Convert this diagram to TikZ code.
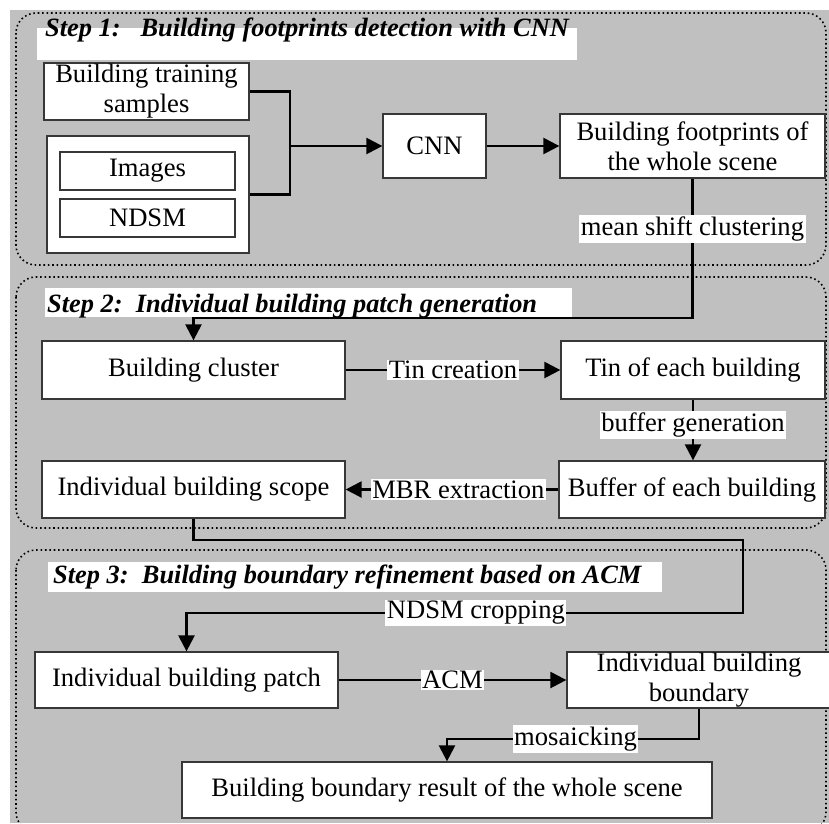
\documentclass[tikz,border=0pt]{standalone}
\usepackage{fontspec}
\setmainfont{Liberation Serif}
\usetikzlibrary{arrows.meta}
\definecolor{panelgray}{RGB}{192,192,192}
\definecolor{boxedge}{RGB}{55,55,55}

\begin{document}
\begin{tikzpicture}[x=1pt,y=-1pt,
  box/.style={draw=boxedge, line width=1.3pt, fill=white, inner sep=0pt,
    align=center, font=\fontsize{26.6}{30}\selectfont},
  lbl/.style={fill=white, inner sep=1.5pt, font=\fontsize{26.6}{30}\selectfont},
  link/.style={line width=2.4pt},
  flow/.style={link, -{Triangle[length=16pt,width=16pt]}},
  stage/.style={draw=black, line width=1.6pt, dash pattern=on 1.6pt off 2.8pt,
    rounded corners=20pt},
  steptitle/.style={anchor=base west, inner sep=0pt,
    font=\fontsize{26.4}{28}\selectfont\bfseries\itshape}
]
\useasboundingbox (0,0) rectangle (829,823);
\fill[panelgray] (10,10) rectangle (829,823);

% stage frames
\draw[stage] (16,13) rectangle (826,265);
\draw[stage] (16,277) rectangle (826,528);
\draw[stage] (16,550) rectangle (826,832);

% stage titles
\fill[white] (37,28) rectangle (577,60);
\node[steptitle] (t1) at (45,36) {Step 1:\ \ \ Building footprints detection with CNN};
\fill[white] (45,288) rectangle (572,317);
\node[steptitle] (t2) at (47,312) {Step 2:\ \ Individual building patch generation};
\fill[white] (48,562) rectangle (662,592);
\node[steptitle] (t3) at (53,583) {Step 3:\ \ Building boundary refinement based on ACM};

% step 1
\node[box, minimum width=205pt, minimum height=57pt] (train) at (146.5,91.5) {Building training\\samples};
\node[box, minimum width=202pt, minimum height=117pt] (inputs) at (148,194.5) {};
\node[box, minimum width=175pt, minimum height=38pt] (images) at (147.5,171) {Images};
\node[box, minimum width=175pt, minimum height=38pt] (ndsm) at (147.5,218) {NDSM};
\node[box, minimum width=103pt, minimum height=64pt] (cnn) at (434.5,146) {CNN};
\node[box, minimum width=265pt, minimum height=64pt] (foot) at (692.5,146) {Building footprints of\\the whole scene};

% step 2
\node[box, minimum width=303pt, minimum height=58pt] (cluster) at (193.5,370) {Building cluster};
\node[box, minimum width=264pt, minimum height=58pt] (tin) at (693,370) {Tin of each building};
\node[box, minimum width=266pt, minimum height=57pt] (buffer) at (692,489.5) {Buffer of each building};
\node[box, minimum width=303pt, minimum height=57pt] (scope) at (193.5,489.5) {Individual building scope};

% step 3
\node[box, minimum width=303pt, minimum height=56pt] (patch) at (186.5,680) {Individual building patch};
\node[box, minimum width=264pt, minimum height=56pt] (bound) at (699,680) {Individual building\\boundary};
\node[box, minimum width=530pt, minimum height=56pt] (result) at (447,790) {Building boundary result of the whole scene};

% connectors
\coordinate (join) at (290,146);
\draw[link] (train.east) -| (join);
\draw[link] (inputs.east) -| (join);
\draw[flow] (join) -- (cnn.west);
\draw[flow] (cnn) -- (foot);

\draw[flow] (foot.south) -- node[lbl, pos=0.36] {mean shift clustering} (foot.south |- 0,318) -| (cluster.north);

\draw[flow] (cluster) -- node[lbl] {Tin creation} (tin);
\draw[flow] (tin.south) -- node[lbl, pos=0.42] {buffer generation} (tin.south |- buffer.north);
\draw[flow] (buffer) -- node[lbl, pos=0.47] {MBR extraction} (scope);

\coordinate (bendA) at (743,540);
\coordinate (bendB) at (743,613);
\draw[flow] (scope.south) |- (bendA) -- (bendB) -- node[lbl, pos=0.48] {NDSM cropping} (patch.north |- bendB) -- (patch.north);

\draw[flow] (patch) -- node[lbl] {ACM} (bound);
\draw[flow] (bound.south) -- (bound.south |- 0,739) -- node[lbl, pos=0.49] {mosaicking} (result.north |- 0,739) -- (result.north);
\end{tikzpicture}
\end{document}
